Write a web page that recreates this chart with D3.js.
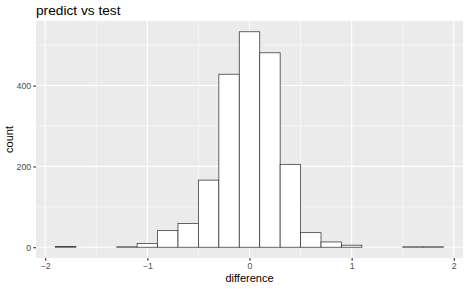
<!DOCTYPE html>
<html>
<head>
<meta charset="utf-8">
<script src="https://cdn.jsdelivr.net/npm/d3@7"></script>
<style>
  body { margin: 0; background: #fff; }
  text { font-family: "Liberation Sans", Arial, sans-serif; }
</style>
</head>
<body>
<div id="chart"></div>
<script>
// histogram bins (binwidth 0.2) and counts
const binStarts = [-1.9, -1.7, -1.5, -1.3, -1.1, -0.9, -0.7, -0.5, -0.3, -0.1,
                   0.1, 0.3, 0.5, 0.7, 0.9, 1.1, 1.3, 1.5, 1.7];
const counts = [2, 0, 0, 1, 9, 41, 59, 166, 428, 533,
                481, 205, 36, 13, 5, 0, 0, 1, 1];
const binWidth = 0.2;
const xTicks = [-2, -1, 0, 1, 2];
const xMinor = [-1.5, -0.5, 0.5, 1.5];
const yTicks = [0, 200, 400];
const yMinor = [100, 300, 500];

const width = 468, height = 289;
const margin = {top: 21, right: 5, bottom: 31, left: 36};

const svg = d3.select('#chart').append('svg')
    .attr('width', width)
    .attr('height', height);

// ggplot style 5% expansion
const xLo = binStarts[0], xHi = binStarts[binStarts.length - 1] + binWidth;
const xPad = (xHi - xLo) * 0.05;
const yMax = d3.max(counts);
const yPad = yMax * 0.05;

const x = d3.scaleLinear()
    .domain([xLo - xPad, xHi + xPad])
    .range([margin.left, width - margin.right]);
const y = d3.scaleLinear()
    .domain([-yPad, yMax + yPad])
    .range([height - margin.bottom, margin.top]);

// panel
svg.append('rect')
    .attr('x', margin.left).attr('y', margin.top)
    .attr('width', width - margin.left - margin.right)
    .attr('height', height - margin.top - margin.bottom)
    .attr('fill', '#EBEBEB');

const grid = svg.append('g');
grid.selectAll('.xminor').data(xMinor).join('line')
    .attr('x1', d => x(d)).attr('x2', d => x(d))
    .attr('y1', margin.top).attr('y2', height - margin.bottom)
    .attr('stroke', '#fff').attr('stroke-width', 0.55);
grid.selectAll('.yminor').data(yMinor).join('line')
    .attr('y1', d => y(d)).attr('y2', d => y(d))
    .attr('x1', margin.left).attr('x2', width - margin.right)
    .attr('stroke', '#fff').attr('stroke-width', 0.55);
grid.selectAll('.xmajor').data(xTicks).join('line')
    .attr('x1', d => x(d)).attr('x2', d => x(d))
    .attr('y1', margin.top).attr('y2', height - margin.bottom)
    .attr('stroke', '#fff').attr('stroke-width', 1.1);
grid.selectAll('.ymajor').data(yTicks).join('line')
    .attr('y1', d => y(d)).attr('y2', d => y(d))
    .attr('x1', margin.left).attr('x2', width - margin.right)
    .attr('stroke', '#fff').attr('stroke-width', 1.1);

// bars
svg.append('g').selectAll('rect')
    .data(binStarts.map((s, i) => ({s, c: counts[i]})))
    .join('rect')
    .attr('x', d => x(d.s))
    .attr('width', d => x(d.s + binWidth) - x(d.s))
    .attr('y', d => y(d.c))
    .attr('height', d => y(0) - y(d.c))
    .attr('fill', '#fff')
    .attr('stroke', '#333')
    .attr('stroke-width', 0.75);

// axes
const xAxis = svg.append('g')
    .attr('transform', `translate(0,${height - margin.bottom})`)
    .call(d3.axisBottom(x).tickValues(xTicks).tickSize(2.75).tickPadding(2).tickFormat(d3.format('d')));
const yAxis = svg.append('g')
    .attr('transform', `translate(${margin.left},0)`)
    .call(d3.axisLeft(y).tickValues(yTicks).tickSize(2.75).tickPadding(2).tickFormat(d3.format('d')));
[xAxis, yAxis].forEach(a => {
    a.select('.domain').remove();
    a.selectAll('line').attr('stroke', '#333').attr('stroke-width', 1.1);
    a.selectAll('text').attr('fill', '#4D4D4D').style('font-size', '8.8px');
});
xAxis.selectAll('text').attr('dy', '0.71em');

// labels
svg.append('text')
    .attr('x', (margin.left + width - margin.right) / 2)
    .attr('y', 282)
    .attr('text-anchor', 'middle')
    .style('font-size', '11px')
    .attr('fill', '#000')
    .text('difference');
svg.append('text')
    .attr('transform', `translate(13,${(margin.top + height - margin.bottom) / 2}) rotate(-90)`)
    .attr('text-anchor', 'middle')
    .style('font-size', '11px')
    .attr('fill', '#000')
    .text('count');
svg.append('text')
    .attr('x', margin.left)
    .attr('y', 15)
    .style('font-size', '13.7px')
    .attr('fill', '#000')
    .text('predict vs test');
</script>
</body>
</html>
